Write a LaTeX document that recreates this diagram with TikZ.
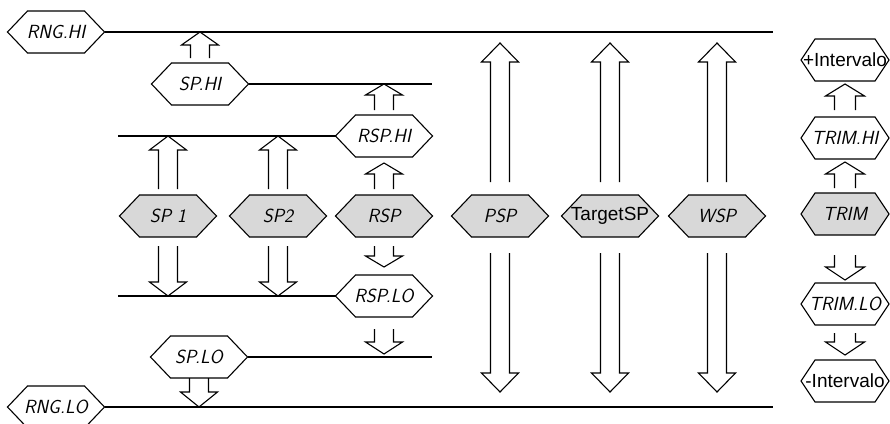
\documentclass[tikz,border=0pt]{standalone}
\usepackage{fontspec}
\newfontfamily\arialf{Liberation Sans}
\usetikzlibrary{calc,backgrounds}
\definecolor{hexgray}{RGB}{216,216,216}
\newcommand\lcdf{\sffamily\itshape\fontsize{19}{19}\selectfont}
\tikzset{
 agap/.store in=\agap, agap=6pt,
 tgap/.store in=\tgap, tgap=0pt,
 hd/.store in=\hd, hd=12pt,
 hw/.store in=\hw, hw=18.5pt,
 sw/.store in=\sw, sw=9.5pt,
 uparr/.style={draw, to path={let \p1=(\tikztostart),\p2=(\tikztotarget) in
   (\x1-\sw,\y1+\agap) |- (\x1-\hw,\y2-\tgap-\hd) -- (\x1,\y2-\tgap) -- (\x1+\hw,\y2-\tgap-\hd) -| (\x1+\sw,\y1+\agap)}},
 downarr/.style={draw, to path={let \p1=(\tikztostart),\p2=(\tikztotarget) in
   (\x1-\sw,\y1-\agap) |- (\x1-\hw,\y2+\tgap+\hd) -- (\x1,\y2+\tgap) -- (\x1+\hw,\y2+\tgap+\hd) -| (\x1+\sw,\y1-\agap)}},
 hexa/.style={rectangle, minimum width=97pt, minimum height=42pt, inner sep=0pt, outer sep=0pt, font=\lcdf},
 hexr/.style={hexa, minimum width=88pt},
 arialtxt/.style={font=\arialf\fontsize{19}{19}\selectfont},
 hexline/.style={draw, line width=1.1pt},
}
\begin{document}
\begin{tikzpicture}[x=1pt,y=-1pt,line width=1.1pt]
\useasboundingbox (0,0) rectangle (890,423);
% hexagon nodes (outline drawn on background layer)
\node[hexa] (rnghi) at (56,32) {\makebox[0pt]{RNG.HI}};
\node[hexa] (sphi) at (200,84) {\makebox[0pt]{SP.HI}};
\node[hexa] (rsphi) at (384,136) {\makebox[0pt]{RSP.HI}};
\node[hexa] (sp1) at (168,216) {\makebox[0pt]{SP 1}};
\node[hexa] (sp2) at (278,216) {\makebox[0pt]{SP2}};
\node[hexa] (rsp) at (384,216) {\makebox[0pt]{RSP}};
\node[hexa] (psp) at (500,216) {\makebox[0pt]{PSP}};
\node[hexa,arialtxt] (tsp) at (610,216) {\makebox[0pt]{TargetSP}};
\node[hexa] (wsp) at (717,216) {\makebox[0pt]{WSP}};
\node[hexa] (rsplo) at (384,296) {\makebox[0pt]{RSP.LO}};
\node[hexa] (splo) at (199,357) {\makebox[0pt]{SP.LO}};
\node[hexa] (rnglo) at (56,407) {\makebox[0pt]{RNG.LO}};
\node[hexr,arialtxt] (pint) at (845,60) {\makebox[0pt]{+Intervalo}};
\node[hexr] (trimhi) at (845,138) {\makebox[0pt]{TRIM.HI}};
\node[hexr] (trim) at (845,214) {\makebox[0pt]{TRIM}};
\node[hexr] (trimlo) at (845,304) {\makebox[0pt]{TRIM.LO}};
\node[hexr,arialtxt] (mint) at (845,381) {\makebox[0pt]{-Intervalo}};
\begin{scope}[on background layer]
\foreach \n/\w/\d/\f in {rnghi/48.5/20/white, sphi/48.5/20/white, rsphi/48.5/20/white,
   sp1/48.5/20/hexgray, sp2/48.5/20/hexgray, rsp/48.5/20/hexgray, psp/48.5/20/hexgray,
   tsp/48.5/20/hexgray, wsp/48.5/20/hexgray,
   rsplo/48.5/20/white, splo/48.5/20/white, rnglo/48.5/20/white,
   pint/44/14/white, trimhi/44/14/white, trim/44/14/hexgray, trimlo/44/14/white, mint/44/14/white}
  \draw[hexline, fill=\f] ($(\n.center)+(-\w,0)$) -- ($(\n.center)+(-\w+\d,-21)$)
     -- ($(\n.center)+(\w-\d,-21)$) -- ($(\n.center)+(\w,0)$)
     -- ($(\n.center)+(\w-\d,21)$) -- ($(\n.center)+(-\w+\d,21)$) -- cycle;
\end{scope}
% limit lines
\coordinate (hiR) at (773,32);
\coordinate (sphiR) at (432,84);
\coordinate (rsphiL) at (118,136);
\coordinate (rsploL) at (118,296);
\coordinate (sploR) at (432,357);
\coordinate (loR) at (773,407);
\draw (rnghi.east) -- (hiR);
\draw (sphi.east) -- (sphiR);
\draw (rsphiL) -- (rsphi.west);
\draw (rsploL) -- (rsplo.west);
\draw (splo.east) -- (sploR);
\draw (rnglo.east) -- (loR);
% up arrows
\draw[uparr,agap=5pt,hd=13pt] (sphi.north) to (sphi.north |- rnghi.east);
\draw[uparr,agap=5pt,hd=11pt] (rsphi.north) to (rsphi.north |- sphi.east);
\draw[uparr,agap=6pt,hd=14pt] (sp1.north) to (sp1.north |- rsphi.west);
\draw[uparr,agap=6pt,hd=14pt] (sp2.north) to (sp2.north |- rsphi.west);
\draw[uparr,agap=6pt,tgap=6pt,hd=11pt] (rsp.north) to (rsphi.south);
\draw[uparr,agap=13pt,tgap=11pt,hd=19pt] (psp.north) to (psp.north |- rnghi.east);
\draw[uparr,agap=13pt,tgap=11pt,hd=19pt] (tsp.north) to (tsp.north |- rnghi.east);
\draw[uparr,agap=13pt,tgap=11pt,hd=19pt] (wsp.north) to (wsp.north |- rnghi.east);
% down arrows
\draw[downarr,agap=9pt,hd=14pt] (sp1.south) to (sp1.south |- rsplo.west);
\draw[downarr,agap=9pt,hd=14pt] (sp2.south) to (sp2.south |- rsplo.west);
\draw[downarr,agap=9pt,tgap=8pt,hd=11pt] (rsp.south) to (rsplo.north);
\draw[downarr,agap=12pt,tgap=3pt,hd=12pt] (rsplo.south) to (rsplo.south |- splo.east);
\draw[downarr,agap=0pt,tgap=0pt,hd=15pt] (splo.south) to (splo.south |- rnglo.east);
\draw[downarr,agap=16pt,tgap=15pt,hd=19pt] (psp.south) to (psp.south |- rnglo.east);
\draw[downarr,agap=16pt,tgap=15pt,hd=19pt] (tsp.south) to (tsp.south |- rnglo.east);
\draw[downarr,agap=16pt,tgap=15pt,hd=19pt] (wsp.south) to (wsp.south |- rnglo.east);
% right column
\draw[uparr,agap=7pt,tgap=3pt,hd=12pt,hw=19.5pt,sw=10.5pt] (trimhi.north) to (pint.south);
\draw[uparr,agap=5pt,tgap=3pt,hd=12pt,hw=19.5pt,sw=10.5pt] (trim.north) to (trimhi.south);
\draw[downarr,agap=20pt,tgap=3pt,hd=13pt,hw=19.5pt,sw=10.5pt] (trim.south) to (trimlo.north);
\draw[downarr,agap=8pt,tgap=5pt,hd=13pt,hw=19.5pt,sw=10.5pt] (trimlo.south) to (mint.north);
\end{tikzpicture}
\end{document}
